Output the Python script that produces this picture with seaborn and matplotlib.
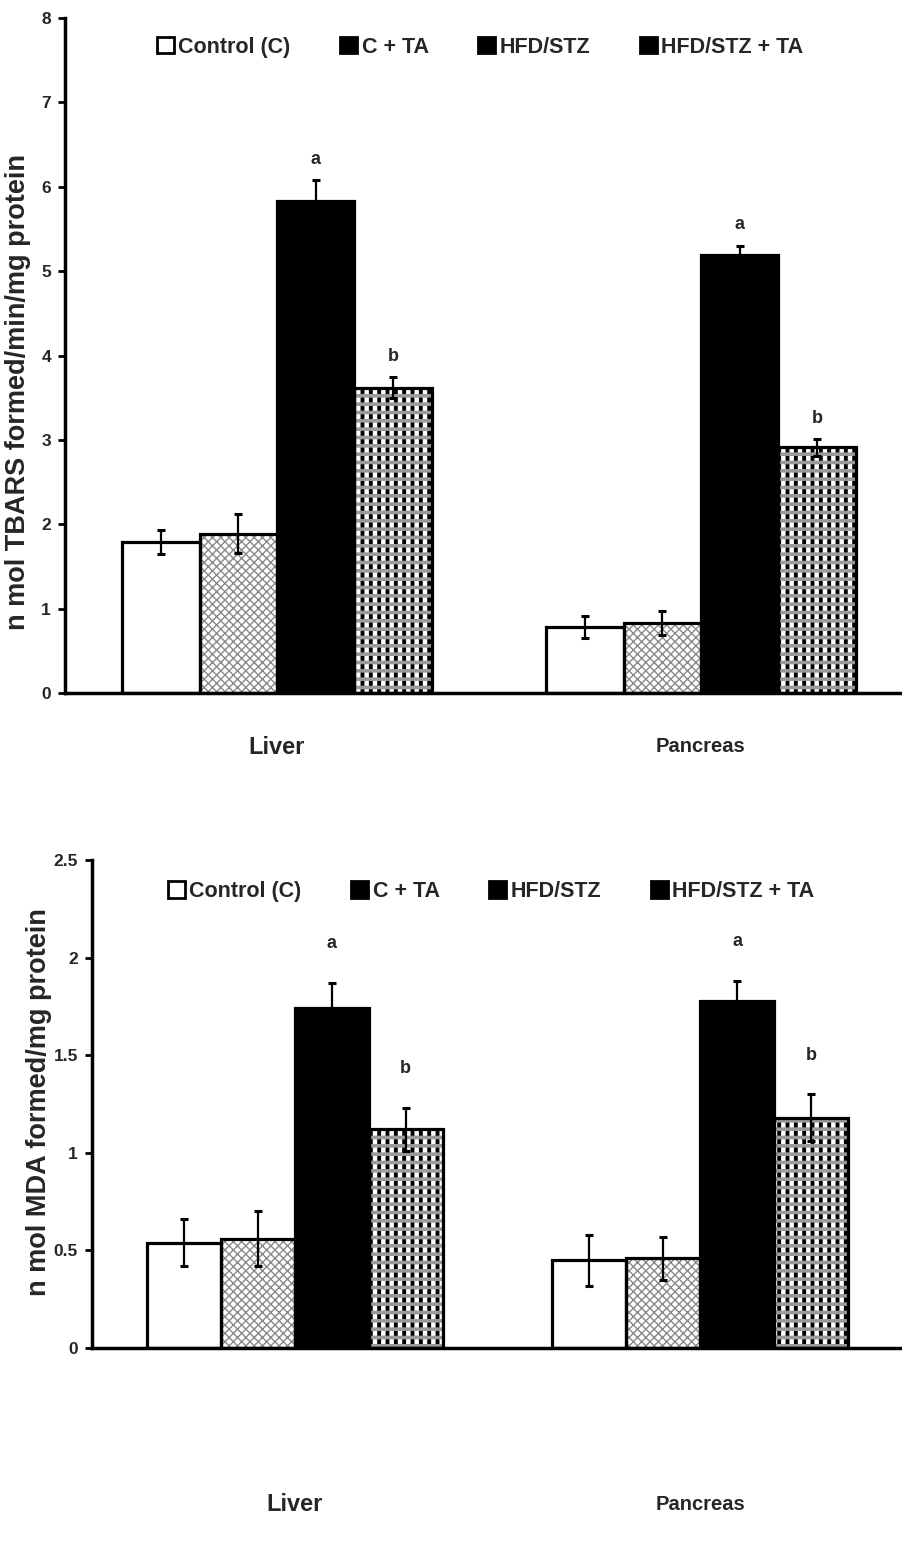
import matplotlib
matplotlib.use("Agg")
import matplotlib.pyplot as plt
from matplotlib.patches import Rectangle
import seaborn as sns
import pandas as pd

# ---------------- data ----------------
tissues = ["Liver", "Pancreas"]
groups = ["Control (C)", "C + TA", "HFD/STZ", "HFD/STZ + TA"]

tbars_liver = [1.79, 1.89, 5.83, 3.62]
tbars_liver_err = [0.14, 0.23, 0.25, 0.12]
tbars_pancreas = [0.78, 0.83, 5.19, 2.91]
tbars_pancreas_err = [0.13, 0.14, 0.11, 0.10]

mda_liver = [0.54, 0.56, 1.74, 1.12]
mda_liver_err = [0.12, 0.14, 0.13, 0.11]
mda_pancreas = [0.45, 0.46, 1.78, 1.18]
mda_pancreas_err = [0.13, 0.11, 0.10, 0.12]

sig_labels = ["", "", "a", "b"]

tbars_ticks = [0, 1, 2, 3, 4, 5, 6, 7, 8]
tbars_ticklabels = ["0", "1", "2", "3", "4", "5", "6", "7", "8"]
mda_ticks = [0, 0.5, 1, 1.5, 2, 2.5]
mda_ticklabels = ["0", "0.5", "1", "1.5", "2", "2.5"]

# ---------------- style ----------------
sns.set_theme(style="white")
plt.rcParams["font.family"] = ["Liberation Sans", "DejaVu Sans"]
plt.rcParams["font.weight"] = "bold"
plt.rcParams["hatch.linewidth"] = 1.2

fills = {"Control (C)": "white", "C + TA": "white",
         "HFD/STZ": "black", "HFD/STZ + TA": "white"}


def hatch_patch(ax, x0, y0, w, h, hatch, color, lw, z):
    with plt.rc_context({"hatch.linewidth": lw}):
        r = Rectangle((x0, y0), w, h, facecolor="none", edgecolor=color,
                      hatch=hatch, linewidth=0, zorder=z)
    if hasattr(r, "set_hatch_linewidth"):
        r.set_hatch_linewidth(lw)
    ax.add_patch(r)
    return r


def make_df(liver, pancreas):
    rows = []
    for g, v in zip(groups, liver):
        rows.append(("Liver", g, v))
    for g, v in zip(groups, pancreas):
        rows.append(("Pancreas", g, v))
    return pd.DataFrame(rows, columns=["tissue", "group", "value"])


def draw(ax, liver, liver_err, pancreas, pancreas_err, ticks, ticklabels,
         ymax, ylabel, ylabel_xy, legend_anchor, label_off, cat_y):
    df = make_df(liver, pancreas)
    sns.barplot(data=df, x="tissue", y="value", hue="group", order=tissues,
                hue_order=groups, palette=fills, width=0.73, errorbar=None,
                saturation=1, legend=False, ax=ax)
    errs = {"Liver": liver_err, "Pancreas": pancreas_err}
    vals = {"Liver": liver, "Pancreas": pancreas}
    handles = []
    for gi, (g, cont) in enumerate(zip(groups, ax.containers)):
        for ti, p in enumerate(cont.patches):
            x0, y0, w, h = p.get_x(), p.get_y(), p.get_width(), p.get_height()
            p.set_linewidth(0)
            z = p.get_zorder()
            if g == "C + TA":
                hatch_patch(ax, x0, y0, w, h, "xxxx", "#8a8a8a", 1.0, z + 0.1)
            elif g == "HFD/STZ + TA":
                hatch_patch(ax, x0, y0, w, h, "||", "black", 2.8, z + 0.1)
                hatch_patch(ax, x0, y0, w, h, "--", "#9a9a9a", 2.6, z + 0.2)
            outline = Rectangle((x0, y0), w, h, fill=False, edgecolor="black",
                                linewidth=2.3, zorder=4, joinstyle="miter")
            ax.add_patch(outline)
            tissue = tissues[ti]
            v = vals[tissue][gi]
            e = errs[tissue][gi]
            ax.errorbar(x0 + w / 2, v, yerr=e, fmt="none", ecolor="black",
                        elinewidth=1.6, capsize=3, capthick=2.2, zorder=6)
            if sig_labels[gi]:
                ax.annotate(sig_labels[gi], xy=(x0 + w / 2, v + e),
                            xytext=(0, label_off), textcoords="offset points",
                            ha="center", va="bottom", fontsize=13,
                            fontweight="bold")
        handles.append(Rectangle((0, 0), 1, 1,
                                 facecolor="black" if g != "Control (C)" else "white",
                                 edgecolor="black", linewidth=2))
    ax.set_ylim(0, ymax)
    ax.set_xlim(-0.5, 1.5)
    ax.set_yticks(ticks)
    ax.set_yticklabels(ticklabels, fontsize=12.5, fontweight="bold")
    ax.set_xticks([0, 1])
    ax.set_xticklabels([])
    ax.set_xticks([-0.5, 0.5, 1.5], minor=True)
    ax.tick_params(axis="x", which="major", length=0)
    ax.tick_params(axis="x", which="minor", length=5, width=2, color="black",
                   direction="out")
    ax.tick_params(axis="y", length=5, width=2, color="black", direction="out",
                   pad=5, left=True)
    ax.text(0, cat_y, "Liver", transform=ax.get_xaxis_transform(),
            ha="center", va="center", fontsize=17, fontweight="bold")
    ax.text(1, cat_y, "Pancreas", transform=ax.get_xaxis_transform(),
            ha="center", va="center", fontsize=14.5, fontweight="bold")
    ax.set_xlabel("")
    ax.set_ylabel(ylabel, fontsize=19.5, fontweight="bold")
    ax.yaxis.set_label_coords(*ylabel_xy)
    for s in ["top", "right"]:
        ax.spines[s].set_visible(False)
    for s in ["left", "bottom"]:
        ax.spines[s].set_linewidth(2.5)
        ax.spines[s].set_color("black")
    ax.legend(handles, groups, loc="upper left",
              bbox_to_anchor=legend_anchor, ncol=4, frameon=False,
              handlelength=0.8, handleheight=0.8, handletextpad=0.2,
              columnspacing=2.3, borderaxespad=0,
              prop={"weight": "bold", "size": 15.5})
    return ax


fig = plt.figure(figsize=(9.03, 15.48), dpi=100)
W, H = 903.0, 1548.0
ax1 = fig.add_axes([65 / W, 1 - 693 / H, (913 - 65) / W, (693 - 18) / H])
ax2 = fig.add_axes([92 / W, 1 - 1348 / H, (903 - 92) / W, (1348 - 860) / H])

draw(ax1, tbars_liver, tbars_liver_err, tbars_pancreas, tbars_pancreas_err,
     tbars_ticks, tbars_ticklabels, 8, "n mol TBARS formed/min/mg protein",
     (-0.040, 0.446), (0.098, 0.985), 9, -0.08)
draw(ax2, mda_liver, mda_liver_err, mda_pancreas, mda_pancreas_err,
     mda_ticks, mda_ticklabels, 2.5, "n mol MDA formed/mg protein",
     (-0.049, 0.504), (0.083, 0.975), 22, -0.32)

fig.savefig("out.png", dpi=100)
